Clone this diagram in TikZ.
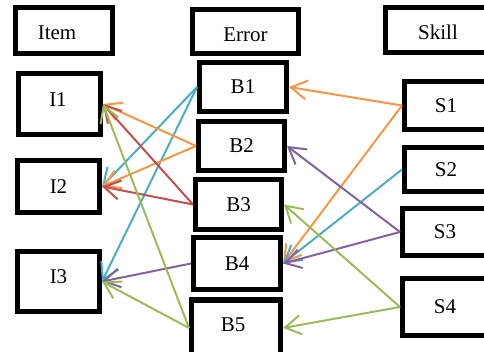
\documentclass[tikz,border=0pt]{standalone}
\usepackage{fontspec}
\setmainfont{Liberation Serif}
\usetikzlibrary{arrows.meta}
\definecolor{corange}{HTML}{F79646}
\definecolor{ccyan}{HTML}{4BACC6}
\definecolor{cred}{HTML}{C0504D}
\definecolor{cgreen}{HTML}{9BBB59}
\definecolor{cpurple}{HTML}{8064A2}
\tikzset{
  box/.style={draw=black, line width=5pt, fill=white, inner sep=0pt, font=\fontsize{21}{24}\selectfont},
  link/.style={line width=2pt, -{Straight Barb[length=16pt,width=19pt]}},
}
\begin{document}
\begin{tikzpicture}[x=1pt,y=-1pt]
\useasboundingbox (0,0) rectangle (484,352);
\clip (0,0) rectangle (484,352);
\fill[white] (0,0) rectangle (484,352);
% headers
\node[box, minimum width=97pt, minimum height=46pt, label={[xshift=-7pt,yshift=-2.5pt,font=\fontsize{21}{24}\selectfont]center:Item}] (item) at (64,30.5) {};
\node[box, minimum width=106pt, minimum height=44pt, label={[yshift=-3.5pt,font=\fontsize{21}{24}\selectfont]center:Error}] (error) at (245.5,31.5) {};
\node[box, minimum width=105pt, minimum height=45pt, label={[yshift=-2.5pt,font=\fontsize{21}{24}\selectfont]center:Skill}] (skill) at (438,30) {};
% items
\node[box, minimum width=82pt, minimum height=61pt, label={[xshift=-1.5pt,yshift=4pt,font=\fontsize{21}{24}\selectfont]center:I1}] (I1) at (59.5,104) {};
\node[box, minimum width=82pt, minimum height=52pt] (I2) at (58.5,186.5) {I2};
\node[box, minimum width=82pt, minimum height=60pt, label={[yshift=4.5pt,font=\fontsize{21}{24}\selectfont]center:I3}] (I3) at (58.5,281.5) {};
% errors
\node[box, minimum width=87pt, minimum height=49pt] (B1) at (243,87) {B1};
\node[box, minimum width=86pt, minimum height=49pt] (B2) at (241.5,146) {B2};
\node[box, minimum width=86pt, minimum height=50pt] (B3) at (238.5,204.5) {B3};
\node[box, minimum width=87pt, minimum height=52pt] (B4) at (237,263.5) {B4};
\node[box, minimum width=89pt, minimum height=56pt, label={[xshift=-3pt,yshift=3.5pt,font=\fontsize{21}{24}\selectfont]center:B5}] (B5) at (236,328) {};
% skills
\node[box, minimum width=83pt, minimum height=48pt] (S1) at (446,105.5) {S1};
\node[box, minimum width=83pt, minimum height=44pt] (S2) at (446,169.5) {S2};
\node[box, minimum width=85pt, minimum height=47pt] (S3) at (445,232) {S3};
\node[box, minimum width=85pt, minimum height=57pt] (S4) at (445,307) {S4};
% links skill -> error
\draw[link, corange] (S1.west) -- (B1.east);
\draw[link, corange] (S1.west) -- (B4.east);
\draw[link, ccyan] (S2.west) -- (B4.east);
\draw[link, cpurple] (S3.west) -- (B2.east);
\draw[link, cpurple] (S3.west) -- (B4.east);
\draw[link, cgreen] (S4.west) -- (B3.east);
\draw[link, cgreen] (S4.west) -- (B5.east);
% links error -> item
\draw[link, ccyan] (B1.west) -- (I2.east);
\draw[link, ccyan] (B1.west) -- (I3.east);
\draw[link, corange] (B2.west) -- (I1.east);
\draw[link, corange] (B2.west) -- (I2.east);
\draw[link, cred] (B3.west) -- (I1.east);
\draw[link, cred] (B3.west) -- (I2.east);
\draw[link, cpurple] (B4.west) -- (I3.east);
\draw[link, cgreen] (B5.west) -- (I1.east);
\draw[link, cgreen] (B5.west) -- (I3.east);
\end{tikzpicture}
\end{document}
